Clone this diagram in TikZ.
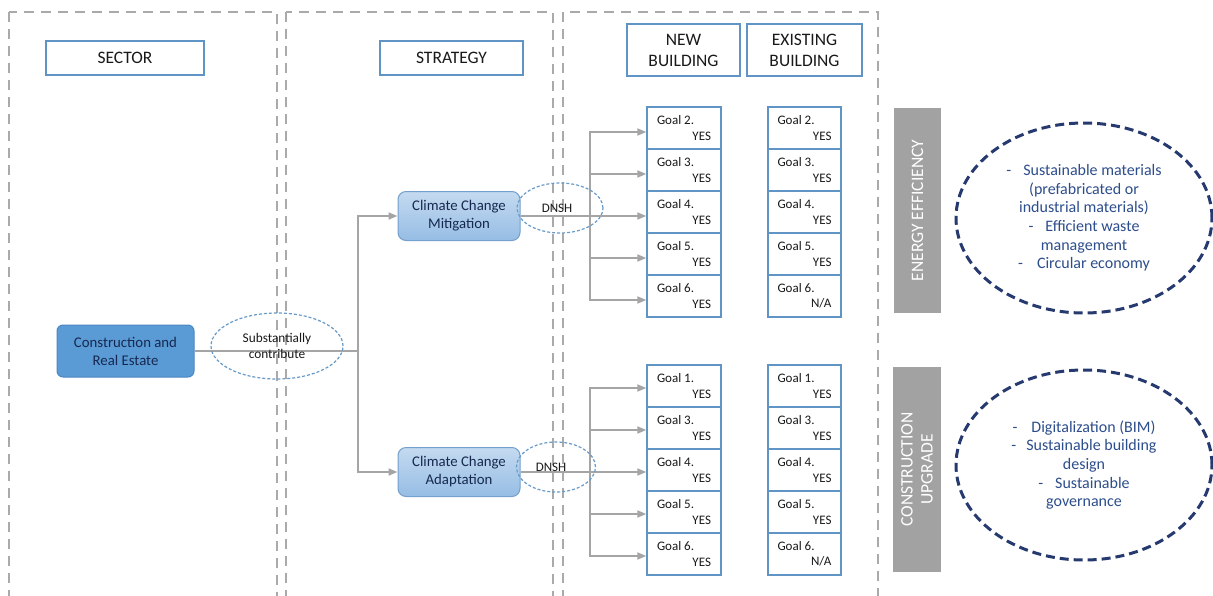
\documentclass[tikz,border=0pt]{standalone}
\usepackage{fontspec}
\setmainfont{Carlito}
\usetikzlibrary{shapes.geometric,arrows.meta}
\definecolor{framegray}{RGB}{170,170,170}
\definecolor{conngray}{RGB}{165,165,165}
\definecolor{boxblue}{RGB}{95,148,196}
\definecolor{crefill}{RGB}{91,155,213}
\definecolor{creborder}{RGB}{75,135,195}
\definecolor{cctop}{RGB}{196,218,240}
\definecolor{ccbot}{RGB}{150,189,228}
\definecolor{ccborder}{RGB}{115,160,205}
\definecolor{smallell}{RGB}{105,155,200}
\definecolor{navy}{RGB}{38,58,112}
\definecolor{elltext}{RGB}{45,78,140}
\definecolor{bargray}{RGB}{162,162,162}
\definecolor{txtdark}{RGB}{25,25,25}
\definecolor{txtnavy}{RGB}{22,40,80}
\newcommand\goaltxt[2]{\parbox{54pt}{#1\\\mbox{}\hfill #2}}
\begin{document}
\begin{tikzpicture}[x=1pt,y=-1pt,
  frame/.style={draw=framegray, line width=1.8pt, dash pattern=on 10pt off 7pt},
  hdr/.style={draw=boxblue, line width=1.3pt, fill=white, text=txtdark, align=center, inner sep=0pt},
  goal/.style={draw=boxblue, line width=1.4pt, fill=white, text=txtdark, minimum width=74pt, minimum height=42pt, inner sep=0pt, font=\fontsize{13}{15.5}\selectfont},
  conn/.style={draw=conngray, line width=1.8pt},
  arr/.style={conn, -{Triangle[length=9pt,width=7pt]}},
  ccbox/.style={rounded corners=8pt, draw=ccborder, line width=1pt, top color=cctop, bottom color=ccbot, text=txtnavy, align=center, minimum width=122pt, minimum height=49pt, inner sep=0pt, font=\fontsize{14.8}{18}\selectfont},
  sell/.style={ellipse, draw=smallell, line width=1.2pt, dash pattern=on 3pt off 2pt, inner sep=0pt, text=txtdark},
  bigell/.style={ellipse, draw=navy, line width=3pt, dash pattern=on 9pt off 5pt, minimum width=256pt, minimum height=190pt, inner sep=0pt, text=elltext, align=center, font=\fontsize{16}{18.6}\selectfont},
  bar/.style={fill=bargray, text=white, align=center, rotate=90, minimum width=205pt, minimum height=47pt, inner sep=0pt, font=\fontsize{17.5}{20}\selectfont}
]
\useasboundingbox (0,0) rectangle (1213,595);
\fill[white] (0,0) rectangle (1213,595);

% dashed frames
\draw[frame] (9,12) rectangle (277,598);
\draw[frame] (286,12) rectangle (553,598);
\draw[frame] (563,12) rectangle (878,598);

% headers
\node[hdr, minimum width=158pt, minimum height=34pt, font=\fontsize{17.5}{21}\selectfont] (sector) at (125,58) {SECTOR};
\node[hdr, minimum width=143pt, minimum height=34pt, font=\fontsize{17.5}{21}\selectfont] (strategy) at (451.5,58) {STRATEGY};
\node[hdr, minimum width=113pt, minimum height=52pt, font=\fontsize{17.5}{21}\selectfont] (newb) at (683.5,50) {NEW\\BUILDING};
\node[hdr, minimum width=115pt, minimum height=52pt, font=\fontsize{17.5}{21}\selectfont] (exb) at (804.5,50) {EXISTING\\BUILDING};

% main nodes
\node[rounded corners=6pt, fill=crefill, draw=creborder, line width=1pt, text=txtnavy, align=center, minimum width=137pt, minimum height=52pt, inner sep=0pt, font=\fontsize{14.8}{18}\selectfont] (cre) at (125.5,351) {Construction and\\Real Estate};
\node[ccbox] (mit) at (459,216) {Climate Change\\Mitigation};
\node[ccbox] (ada) at (459,472) {Climate Change\\Adaptation};

% goal boxes upper
\foreach \g [count=\i] in {2,3,4,5,6} {
  \node[goal] (uN\i) at (684,{128+42*(\i-1)}) {\goaltxt{Goal \g.}{YES}};
}
\foreach \g/\v [count=\i] in {2/YES,3/YES,4/YES,5/YES,6/{N/A}} {
  \node[goal, minimum width=73pt] (uE\i) at (804.5,{128+42*(\i-1)}) {\goaltxt{Goal \g.}{\v}};
}
% goal boxes lower
\foreach \g [count=\i] in {1,3,4,5,6} {
  \node[goal] (lN\i) at (684,{386+42*(\i-1)}) {\goaltxt{Goal \g.}{YES}};
}
\foreach \g/\v [count=\i] in {1/YES,3/YES,4/YES,5/YES,6/{N/A}} {
  \node[goal, minimum width=73pt] (lE\i) at (804.5,{386+42*(\i-1)}) {\goaltxt{Goal \g.}{\v}};
}

% connectors: sector to strategies
\coordinate (j1) at (358,351);
\draw[conn] (cre.east) -- (j1);
\draw[arr] (j1) |- (mit.west);
\draw[arr] (j1) |- (ada.west);

% mitigation to goals
\coordinate (bm) at (590,216);
\draw[conn] (mit.east) -- (bm);
\foreach \i in {1,...,5} {
  \draw[arr] (bm) |- ([yshift=-4pt]uN\i.west);
}
% adaptation to goals
\coordinate (ba) at (590,472);
\draw[conn] (ada.east) -- (ba);
\foreach \i in {1,...,5} {
  \draw[arr] (ba) |- ([yshift=-2pt]lN\i.west);
}

% small dashed ellipses
\node[sell, minimum width=132pt, minimum height=66pt, align=center, font=\fontsize{13.3}{15.5}\selectfont] (subst) at (277,346) {Substantially\\contribute};
\node[sell, minimum width=86pt, minimum height=50pt, font=\fontsize{13}{15}\selectfont] (dnsh1) at (560,208) {DNSH\hspace*{6pt}};
\node[sell, minimum width=79pt, minimum height=50pt, font=\fontsize{13}{15}\selectfont] (dnsh2) at (556,467) {DNSH\hspace*{10pt}};

% gray bars
\node[bar] (ee) at (917.5,210.5) {ENERGY EFFICIENCY};
\node[bar, minimum height=48pt] (cu) at (917,469.5) {CONSTRUCTION\\UPGRADE};

% big ellipses
\node[bigell] (ell1) at (1084,218) {-\hspace{12pt}Sustainable materials\\(prefabricated or\\industrial materials)\\-\hspace{12pt}Efficient waste\\management\\-\hspace{14pt}Circular economy};
\node[bigell] (ell2) at (1084,465) {-\hspace{14pt}Digitalization (BIM)\\-\hspace{10pt}Sustainable building\\design\\-\hspace{12pt}Sustainable\\governance};
\end{tikzpicture}
\end{document}
